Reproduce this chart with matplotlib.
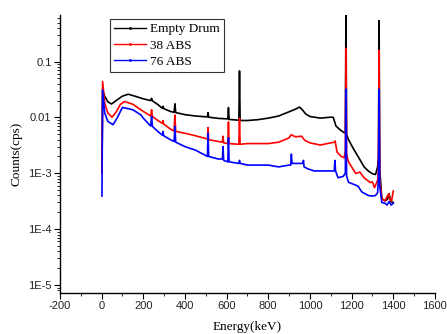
import matplotlib
matplotlib.use("Agg")
import matplotlib.pyplot as plt
from matplotlib.lines import Line2D
from matplotlib.ticker import FixedLocator, LogLocator, NullFormatter, MultipleLocator

series_names = ["Empty Drum", "38 ABS", "76 ABS"]

empty_E = [2, 5, 15, 30, 48, 70, 100, 128, 160, 200, 236, 240, 244, 270, 292, 295, 298, 330, 348, 352, 356,
           400, 450, 508, 511, 514, 560, 606, 609, 612, 659, 662, 665, 700, 750, 800, 850, 900, 930, 950, 965,
           980, 1000, 1050, 1100, 1112, 1125, 1145, 1165, 1170, 1173, 1176, 1185, 1210, 1240, 1260, 1280, 1300,
           1315, 1325, 1329, 1332, 1335, 1345, 1360, 1372, 1380, 1388, 1400]
empty_C = [1e-3, 0.031, 0.024, 0.019, 0.0174, 0.020, 0.024, 0.026, 0.024, 0.0215, 0.020, 0.022, 0.0198, 0.017,
           0.0145, 0.0158, 0.0144, 0.0128, 0.0123, 0.0175, 0.0122, 0.0112, 0.0106, 0.0102, 0.0122, 0.0101,
           0.0096, 0.0094, 0.0150, 0.0092, 0.0089, 0.068, 0.0088, 0.0088, 0.0091, 0.0097, 0.0106, 0.0126,
           0.0140, 0.0153, 0.0135, 0.0115, 0.0104, 0.0097, 0.0101, 0.0100, 0.0070, 0.0060, 0.0053, 0.0055,
           0.9, 0.0050, 0.0040, 0.0027, 0.00175, 0.0013, 0.0011, 0.00098, 0.00095, 0.0013, 0.002, 0.54,
           0.0012, 0.00035, 0.00032, 0.00034, 0.00043, 0.00031, 0.00030]

abs38_E = [2, 5, 15, 30, 50, 70, 90, 110, 150, 200, 236, 240, 244, 270, 292, 295, 298, 330, 348, 352, 356, 400,
           450, 508, 511, 514, 560, 580, 583, 586, 606, 609, 612, 659, 662, 665, 700, 750, 800, 850, 900, 910,
           930, 960, 975, 1000, 1050, 1100, 1118, 1121, 1130, 1150, 1165, 1170, 1173, 1176, 1185, 1200, 1220,
           1240, 1260, 1275, 1290, 1300, 1310, 1325, 1329, 1332, 1335, 1345, 1360, 1370, 1378, 1385, 1392, 1400]
abs38_C = [1e-3, 0.044, 0.018, 0.012, 0.0101, 0.0125, 0.017, 0.0193, 0.0172, 0.0128, 0.0106, 0.0137, 0.0104,
           0.0088, 0.0078, 0.0088, 0.0076, 0.0062, 0.0057, 0.011, 0.0056, 0.0052, 0.0047, 0.0041, 0.0066,
           0.0040, 0.0037, 0.0036, 0.0046, 0.0035, 0.0034, 0.0083, 0.0034, 0.0033, 0.0097, 0.0033, 0.0034,
           0.0034, 0.0034, 0.0036, 0.0043, 0.0049, 0.0045, 0.0046, 0.0039, 0.0035, 0.0032, 0.0035, 0.0036,
           0.0038, 0.0024, 0.0020, 0.0019, 0.0025, 0.173, 0.0022, 0.0016, 0.0013, 0.00099, 0.00105, 0.00083,
           0.00075, 0.00068, 0.00070, 0.00055, 0.00075, 0.0012, 0.16, 0.0008, 0.00035, 0.00032, 0.00038,
           0.00043, 0.00033, 0.00032, 0.00048]

abs76_E = [2, 5, 15, 30, 55, 75, 100, 150, 190, 200, 236, 240, 244, 270, 292, 295, 298, 330, 348, 352, 356, 400,
           450, 508, 511, 514, 560, 580, 583, 586, 606, 609, 612, 659, 662, 665, 700, 750, 800, 850, 900, 908,
           911, 914, 940, 966, 969, 972, 990, 1020, 1060, 1100, 1117, 1120, 1123, 1135, 1160, 1170, 1173, 1176,
           1185, 1230, 1250, 1265, 1280, 1300, 1315, 1325, 1329, 1332, 1335, 1345, 1360, 1370, 1380, 1390, 1400]
abs76_C = [3.9e-4, 0.031, 0.012, 0.0085, 0.0074, 0.0098, 0.0151, 0.0137, 0.0110, 0.0097, 0.0070, 0.0104,
           0.0069, 0.0056, 0.0048, 0.0056, 0.0047, 0.0040, 0.0037, 0.0069, 0.0036, 0.0030, 0.0026, 0.0020,
           0.0052, 0.0020, 0.0018, 0.0018, 0.0030, 0.0017, 0.0016, 0.0043, 0.0016, 0.0015, 0.0017, 0.0015,
           0.0014, 0.0014, 0.0014, 0.0013, 0.0014, 0.0014, 0.0022, 0.0015, 0.0015, 0.0015, 0.0017, 0.0013,
           0.0012, 0.0011, 0.0011, 0.0011, 0.0011, 0.0017, 0.0011, 0.00083, 0.00088, 0.0010, 0.032, 0.0009,
           0.00069, 0.00059, 0.00046, 0.00043, 0.0004, 0.00039, 0.0004, 0.00045, 0.0008, 0.032, 0.0006,
           0.0003, 0.00029, 0.00027, 0.00031, 0.00027, 0.00029]

colors = ["#000000", "#ff0000", "#0000ff"]
ytick_vals = [1e-5, 1e-4, 1e-3, 1e-2, 1e-1]
ytick_labels = ["1E-5", "1E-4", "1E-3", "0.01", "0.1"]
xtick_vals = [-200, 0, 200, 400, 600, 800, 1000, 1200, 1400, 1600]

fig = plt.figure(figsize=(4.47, 3.34), dpi=100)
ax = fig.add_axes([0.134, 0.123, 0.839, 0.833])

for E, C, col in zip([empty_E, abs38_E, abs76_E], [empty_C, abs38_C, abs76_C], colors):
    ax.plot(E, C, color=col, lw=1.2)

ax.set_yscale("log")
ax.set_xlim(-200, 1600)
ax.set_ylim(7.2e-6, 0.69)

ax.yaxis.set_major_locator(FixedLocator(ytick_vals))
ax.set_yticklabels(ytick_labels)
ax.yaxis.set_minor_locator(LogLocator(base=10, subs=range(2, 10)))
ax.yaxis.set_minor_formatter(NullFormatter())
ax.xaxis.set_major_locator(FixedLocator(xtick_vals))
ax.set_xticklabels([str(v) for v in xtick_vals])
ax.xaxis.set_minor_locator(MultipleLocator(100))

for s in ["top", "right"]:
    ax.spines[s].set_visible(False)
ax.spines["left"].set_linewidth(1.0)
ax.spines["bottom"].set_linewidth(1.0)

ax.tick_params(which="major", direction="out", length=4, width=0.8, labelsize=8, pad=2, labelcolor="#222222")
ax.tick_params(which="minor", direction="out", length=2, width=0.6)
for lab in ax.get_xticklabels() + ax.get_yticklabels():
    lab.set_fontfamily("Liberation Sans")

ax.set_xlabel("Energy(keV)", fontfamily="Liberation Serif", fontsize=9.5, labelpad=7)
ax.set_ylabel("Counts(cps)", fontfamily="Liberation Serif", fontsize=9.5, labelpad=4)

handles = [Line2D([0], [0], color=c, lw=1.0, marker=".", markersize=2) for c in colors]
leg = ax.legend(handles, series_names, loc="upper left", bbox_to_anchor=(0.115, 1.01),
                prop={"family": "Liberation Serif", "size": 9.5}, frameon=True, fancybox=False,
                handlelength=2.4, handletextpad=0.3, borderpad=0.35, labelspacing=0.3, markerscale=1)
leg.get_frame().set_edgecolor("black")
leg.get_frame().set_linewidth(0.8)

fig.savefig("out.png", dpi=100)
